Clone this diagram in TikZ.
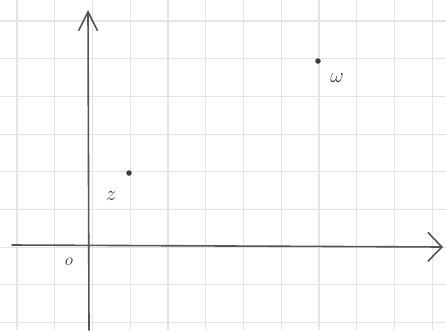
\documentclass[tikz,border=0pt]{standalone}
\usetikzlibrary{arrows.meta}
\definecolor{gridc}{RGB}{228,228,228}
\definecolor{pen}{RGB}{85,85,85}
\definecolor{ink}{RGB}{60,60,60}
\begin{document}
\begin{tikzpicture}[x=1pt,y=-1pt,
  gridline/.style={draw=gridc,line width=1.1pt},
  axis/.style={draw=pen,line width=1.6pt,line cap=round},
  ptdot/.style={circle,fill=ink,inner sep=0pt,minimum size=5.5pt},
  lbl/.style={text=ink,font=\fontsize{22}{22}\selectfont,inner sep=0pt}]
\fill[white] (0,0) rectangle (446,330);
\useasboundingbox (0,0) rectangle (446,330);
% grid paper
\foreach \i in {0,...,11}{
  \draw[gridline] ({17+37.75*\i},0) -- ({17+37.75*\i},330);}
\foreach \j in {0,...,8}{
  \draw[gridline] (0,{21+37.7*\j}) -- (446,{21+37.7*\j});}
% axes
\coordinate (xs) at (12,245);
\coordinate (xe) at (443,247);
\coordinate (ys) at (89,330);
\coordinate (ye) at (88,10);
\draw[axis,-{Straight Barb[length=14pt,width=29pt,line width=1.6pt]}] (xs) -- (xe);
\draw[axis,-{Straight Barb[length=19pt,width=19pt,line width=1.6pt]}] (ys) -- (ye);
% points
\node[ptdot] (z) at (129,173) {};
\node[ptdot] (w) at (318,61) {};
\node[lbl] (zl) at (111,196) {$z$};
\node[lbl] (wl) at (337,78) {$\omega$};
\node[lbl,font=\fontsize{18}{18}\selectfont] (o) at (69,262) {$o$};
\end{tikzpicture}
\end{document}
